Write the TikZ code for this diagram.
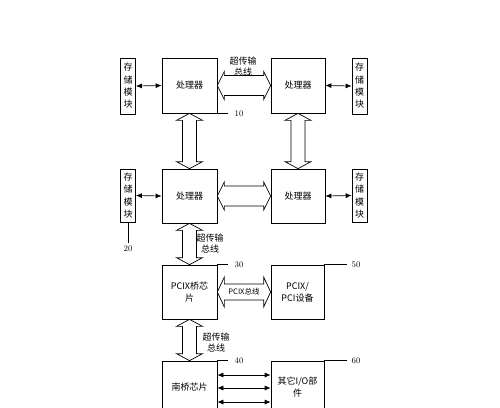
\documentclass[tikz,border=0pt]{standalone}
\usepackage{fontspec}
\newfontfamily\cjk{Noto Sans CJK SC}
\usetikzlibrary{positioning,arrows.meta,calc}

% fat double-headed bus arrows: from, to, head half-width, shaft half-width
\newcommand\hbus[4]{%
  \draw[fill=white] let \p1=(#1), \p2=(#2) in
    (\x1,\y1) -- ({\x1+7pt},{\y1+#3pt}) -- ({\x1+7pt},{\y1+#4pt}) -- ({\x2-7pt},{\y1+#4pt})
    -- ({\x2-7pt},{\y1+#3pt}) -- (\x2,\y1) -- ({\x2-7pt},{\y1-#3pt}) -- ({\x2-7pt},{\y1-#4pt})
    -- ({\x1+7pt},{\y1-#4pt}) -- ({\x1+7pt},{\y1-#3pt}) -- cycle;}
\newcommand\vbus[4]{%
  \draw[fill=white] let \p1=(#1), \p2=(#2) in
    (\x1,\y1) -- ({\x1+#3pt},{\y1-7pt}) -- ({\x1+#4pt},{\y1-7pt}) -- ({\x1+#4pt},{\y2+7pt})
    -- ({\x1+#3pt},{\y2+7pt}) -- (\x1,\y2) -- ({\x1-#3pt},{\y2+7pt}) -- ({\x1-#4pt},{\y2+7pt})
    -- ({\x1-#4pt},{\y1-7pt}) -- ({\x1-#3pt},{\y1-7pt}) -- cycle;}

\begin{document}
\begin{tikzpicture}[x=1pt,y=-1pt,line width=0.7pt,
  box/.style={draw,inner sep=1pt,align=center,font=\cjk\fontsize{9}{12}\selectfont},
  membox/.style={box,minimum width=15,minimum height=56,font=\cjk\fontsize{9}{12.3}\selectfont},
  unitbox/.style={box,minimum width=55,minimum height=55},
  buslbl/.style={align=center,inner sep=0pt,font=\cjk\fontsize{9}{11}\selectfont},
  reflbl/.style={inner sep=0pt,font=\fontsize{8.5}{10}\selectfont},
  link/.style={{Latex[length=6pt,width=5pt]}-{Latex[length=6pt,width=5pt]}}]
\useasboundingbox (0,0) rectangle (500,407);
\clip (0,0) rectangle (500,407);

% processors and storage
\node[membox] (mem1) at (128,86) {存\\储\\模\\块};
\node[unitbox] (cpu1) at (189.5,85.5) {处理器};
\node[unitbox,minimum width=54] (cpu2) at (298,85.5) {处理器};
\node[membox] (mem2) at (359.5,86) {存\\储\\模\\块};
\node[membox,minimum height=53] (mem3) at (128,195.5) {存\\储\\模\\块};
\node[unitbox,minimum height=54] (cpu3) at (189.5,196) {处理器};
\node[unitbox,minimum width=54,minimum height=54] (cpu4) at (298,196) {处理器};
\node[membox,minimum height=53] (mem4) at (359.5,195.5) {存\\储\\模\\块};

% bridges and devices
\node[unitbox,minimum height=54] (pcix) at (189.5,292) {PCIX桥芯\\片};
\node[unitbox,minimum width=53,minimum height=54] (pcidev) at (297.5,292) {PCIX/\\PCI设备};
\node[unitbox,minimum height=52] (south) at (189.5,387) {南桥芯片};
\node[unitbox,minimum width=53,minimum height=52] (otherio) at (297.5,387) {其它I/O部\\件};

% buses
\hbus{cpu1.east}{cpu2.west}{14}{10}
\hbus{cpu3.east}{cpu4.west}{14}{10}
\hbus{pcix.east}{pcidev.west}{15}{8}
\vbus{cpu1.south}{cpu3.north}{13}{7}
\vbus{cpu2.south}{cpu4.north}{13}{7}
\vbus{cpu3.south}{pcix.north}{13}{7}
\vbus{pcix.south}{south.north}{13}{7}
\node[inner sep=0pt,font=\cjk\fontsize{7.5}{9}\selectfont] (pcixbus) at ($(pcix.east)!0.5!(pcidev.west)$) {PCIX总线};
\node[buslbl] (ht1) at (243,67) {超传输\\总线};
\node[buslbl] (ht2) at (210,243.5) {超传输\\总线};
\node[buslbl] (ht3) at (216,342.5) {超传输\\总线};

% memory links
\draw[link] (mem1.east) -- (cpu1.west);
\draw[link] (cpu2.east) -- (mem2.west);
\draw[link] (mem3.east) -- (cpu3.west);
\draw[link] (cpu4.east) -- (mem4.west);
\draw[link] ([yshift=12pt]south.east) -- ([yshift=12pt]otherio.west);
\draw[link] ([yshift=-1pt]south.east) -- ([yshift=-1pt]otherio.west);
\draw[link] ([yshift=-15pt]south.east) -- ([yshift=-15pt]otherio.west);

% reference numerals
\draw (cpu1.south east) -- ++(11,0) node[reflbl,right=6pt] (n10) {10};
\draw (mem3.south) -- ++(0,21) node[reflbl,below=2pt] (n20) {20};
\draw (pcix.north east) -- ++(11,0) node[reflbl,right=6pt] (n30) {30};
\draw (south.north east) -- ++(11,0) node[reflbl,right=6pt] (n40) {40};
\draw (pcidev.north east) -- ++(23,0) node[reflbl,right=4pt] (n50) {50};
\draw (otherio.north east) -- ++(23,0) node[reflbl,right=4pt] (n60) {60};
\end{tikzpicture}
\end{document}
